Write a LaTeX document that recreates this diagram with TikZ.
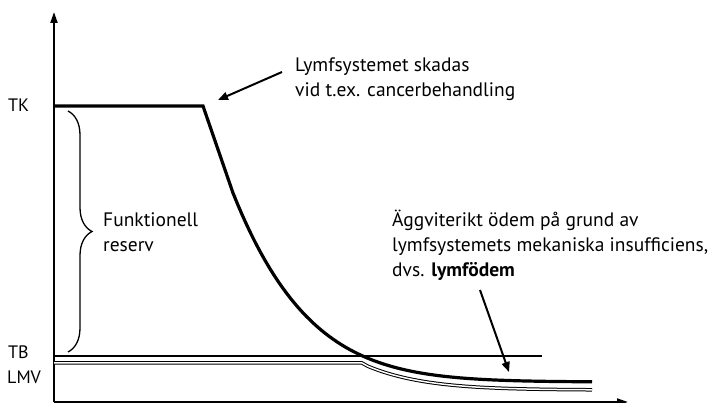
\documentclass[tikz,border=0pt]{standalone}
\usepackage{fontspec}
\setmainfont{PT Sans}
\usetikzlibrary{arrows.meta,decorations.pathreplacing}

\begin{document}
\begin{tikzpicture}[x=1pt,y=-1pt,
  axis/.style={line width=2pt,-{Triangle[length=11pt,width=7pt]}},
  curve/.style={line width=3.2pt},
  level/.style={line width=1.6pt},
  pointer/.style={line width=2pt,-{Triangle[length=10pt,width=8pt]}},
  label/.style={font=\fontsize{18}{25}\selectfont,inner sep=0pt,anchor=base west,align=left},
  remark/.style={label,font=\fontsize{19.5}{25}\selectfont}]
\useasboundingbox (0,0) rectangle (710,403);

% axes
\coordinate (O) at (54,402);
\coordinate (ytop) at (54,12);
\coordinate (xend) at (628,402);
\draw[axis] (O) -- (ytop);
\draw[axis] (O) -- (xend);

% levels
\node[label] (TK) at (8,112) {TK};
\node[label] (TB) at (8,359) {TB};
\node[label] (LMV) at (7,384) {LMV};

\draw[level] (54,356) -- (542,356);

% lymph transport capacity
\draw[curve] (54,106) -- (203,106) -- (233,193)
  -- plot[domain=233:592,samples=80] (\x,{382-189*exp(-0.01328*(\x-233)-0.156*((\x-233)/100)^2)});

% lymph load
\draw[line width=1pt,double,double distance=1.5pt] (54,363) -- (362,363)
  -- plot[domain=368:592,samples=50] (\x,{390-189*exp(-0.01328*(\x-233)-0.156*((\x-233)/100)^2)});

% reserve
\draw[decorate,decoration={brace,amplitude=24pt},line width=1.3pt] (68,111) -- (68,352);
\node[remark] (reserve) at (103,252) {Funktionell\\reserv};

% comments
\node[remark] (damage) at (295,97) {Lymfsystemet skadas\\vid t.ex. cancerbehandling};
\node[remark] (oedema) at (392,277) {Äggviterikt ödem på grund av\\lymfsystemets mekaniska insufficiens,\\dvs. \textbf{lymfödem}};

\coordinate (damagetail) at (282,72);
\coordinate (damagetip) at (218,100);
\coordinate (oedematail) at (480,290);
\coordinate (oedematip) at (509,372);
\draw[pointer] (damagetail) -- (damagetip);
\draw[pointer] (oedematail) -- (oedematip);
\end{tikzpicture}
\end{document}
